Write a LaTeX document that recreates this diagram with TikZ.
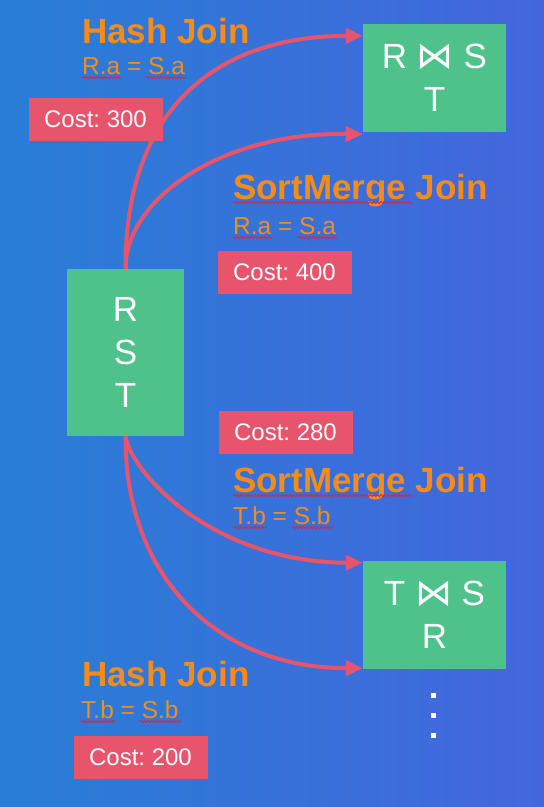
\documentclass[tikz,border=0pt]{standalone}
\usepackage{fontspec}
\setmainfont{Liberation Sans}
\newfontfamily\joinfont{DejaVu Sans}
\usepackage{tikz}
\usetikzlibrary{arrows.meta, positioning, decorations.pathmorphing}
\definecolor{bgleft}{RGB}{40,126,214}
\definecolor{bgright}{RGB}{68,102,220}
\definecolor{relgreen}{RGB}{78,194,138}
\definecolor{costred}{RGB}{232,84,108}
\definecolor{joinorange}{RGB}{245,140,26}
\definecolor{squigred}{RGB}{214,40,72}
\frenchspacing

% wavy underline below a condition: node, offset, length
\newcommand{\squig}[3]{\draw[squiggle] ([xshift=#2pt, yshift=-3.5pt]#1.base west) -- ++(#3,0);}
\newcommand{\bowjoin}{{\joinfont\fontsize{37}{43}\selectfont ⋈}}

\begin{document}
\begin{tikzpicture}[
    x=1pt, y=-1pt,
    relbox/.style={rectangle, fill=relgreen, text=white, align=center,
                   inner sep=0pt, font=\fontsize{35}{43}\selectfont},
    costbox/.style={rectangle, fill=costred, text=white, inner sep=0pt,
                    minimum width=134pt, minimum height=43pt,
                    font=\fontsize{24}{28}\selectfont},
    joinname/.style={anchor=base west, inner sep=0pt, text=joinorange,
                     font=\fontsize{35}{40}\selectfont\bfseries},
    joincond/.style={anchor=base west, inner sep=0pt, text=joinorange,
                     font=\fontsize{24.5}{28}\selectfont},
    arrow/.style={-{Triangle[length=17pt, width=15pt]}, line width=4pt, color=costred},
    squiggle/.style={squigred, line width=0.9pt, decorate,
                     decoration={snake, amplitude=1.1pt, segment length=3.5pt}},
    dotmark/.style={rectangle, fill=white, inner sep=0pt, minimum size=5pt}
]
\shade[left color=bgleft, right color=bgright] (0,0) rectangle (544,807);
\useasboundingbox (0,0) rectangle (544,807);

% relations
\node[relbox, minimum width=117pt, minimum height=167pt] (rst) at (125.5,352.5) {R\\S\\T};
\node[relbox, minimum width=143pt, minimum height=108pt] (rsjoin) at (434.5,78) {R \bowjoin{} S\\T};
\node[relbox, minimum width=143pt, minimum height=108pt] (tsjoin) at (434.5,615) {T \bowjoin{} S\\R};

% top choices
\node[joinname] (hash1) at (82,43) {Hash Join};
\node[joincond] (cond1) at (82,74) {R.a = S.a};
\node[costbox] (cost1) at (95.5,119) {Cost: 300};

\node[joinname] (merge1) at (233,199) {SortMerge Join};
\node[joincond] (cond2) at (233,234) {R.a = S.a};
\node[costbox] (cost2) at (284.5,272.5) {Cost: 400};

% bottom choices
\node[costbox] (cost3) at (285.5,432.5) {Cost: 280};
\node[joinname] (merge2) at (233,492) {SortMerge Join};
\node[joincond] (cond3) at (233,524) {T.b = S.b};

\node[joinname] (hash2) at (82,686) {Hash Join};
\node[joincond] (cond4) at (81,718) {T.b = S.b};
\node[costbox] (cost4) at (140.5,757) {Cost: 200};

\foreach \i/\y in {1/695, 2/715, 3/735}
  \node[dotmark] (dot\i) at (433,\y) {};

% spell-check marks
\squig{cond1}{0}{39} \squig{cond1}{64}{40}
\squig{merge1}{0}{179}
\squig{cond2}{0}{40} \squig{cond2}{65}{39}
\squig{merge2}{0}{179}
\squig{cond3}{0}{34} \squig{cond3}{59}{41}
\squig{cond4}{0}{34} \squig{cond4}{59}{41}

\draw[arrow] (rst.north) .. controls (125,110) and (215,36) .. ([yshift=-12pt]rsjoin.north west);
\draw[arrow] (rst.north) .. controls (125,200) and (220,132) .. ([yshift=-2pt]rsjoin.south west);
\draw[arrow] (rst.south) .. controls (130,470) and (210,562) .. ([yshift=-2pt]tsjoin.north west);
\draw[arrow] (rst.south) .. controls (125,580) and (220,668) .. ([yshift=1pt]tsjoin.south west);
\end{tikzpicture}
\end{document}
